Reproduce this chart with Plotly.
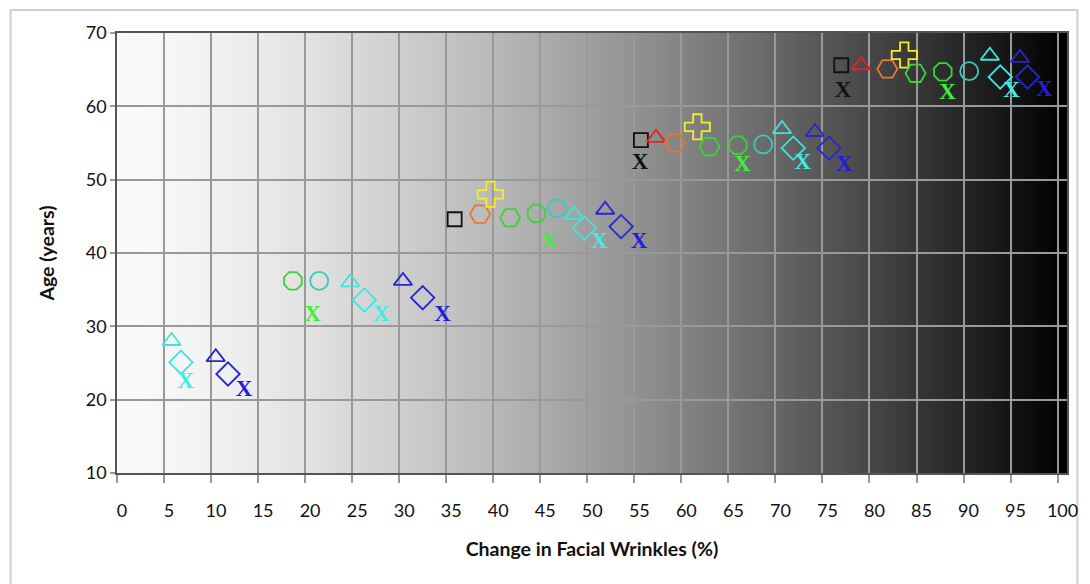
import base64
import struct
import zlib

import plotly.graph_objects as go

# ---- data: (change in facial wrinkles %, age in years) per marker series ----
black_square_x = [35.9, 55.7, 77.0]
black_square_y = [44.6, 55.4, 65.6]

black_x_x = [55.6, 77.2]
black_x_y = [52.3, 62.0]

red_triangle_x = [57.3, 79.1]
red_triangle_y = [55.7, 65.6]

orange_hexagon_x = [38.6, 59.3, 81.9]
orange_hexagon_y = [45.3, 55.0, 65.1]

yellow_cross_x = [39.7, 61.7, 83.7]
yellow_cross_y = [48.0, 57.2, 67.0]

green_hexagon_x = [41.8, 63.0, 84.9]
green_hexagon_y = [44.8, 54.5, 64.5]

green_octagon_x = [18.7, 44.6, 66.0, 87.8]
green_octagon_y = [36.2, 45.4, 54.7, 64.7]

green_x_x = [20.8, 45.9, 66.5, 88.3]
green_x_y = [31.5, 41.4, 52.0, 61.8]

teal_circle_x = [21.5, 46.8, 68.7, 90.6]
teal_circle_y = [36.2, 46.1, 54.8, 64.8]

cyan_triangle_x = [5.8, 24.8, 48.6, 70.7, 92.8]
cyan_triangle_y = [28.0, 36.0, 45.2, 56.9, 66.9]

cyan_diamond_x = [6.8, 26.3, 49.7, 71.9, 93.9]
cyan_diamond_y = [25.1, 33.6, 43.4, 54.3, 64.0]

cyan_x_x = [7.3, 28.1, 51.3, 72.9, 95.1]
cyan_x_y = [22.4, 31.5, 41.4, 52.3, 62.1]

blue_triangle_x = [10.5, 30.4, 51.9, 74.2, 96.0]
blue_triangle_y = [25.8, 36.2, 45.9, 56.5, 66.6]

blue_diamond_x = [11.8, 32.5, 53.6, 75.7, 96.8]
blue_diamond_y = [23.5, 33.9, 43.6, 54.3, 64.0]

blue_x_x = [13.5, 34.6, 55.5, 77.3, 98.6]
blue_x_y = [21.3, 31.5, 41.4, 52.0, 62.2]

x_ticks = list(range(0, 101, 5))
y_ticks = list(range(10, 71, 10))

X_MIN, X_MAX = 0, 101
Y_MIN, Y_MAX = 10, 70


def gradient_png(width=256):
    """Horizontal white-to-black grayscale strip encoded as a PNG data URI."""
    vals = []
    for i in range(width):
        t = i / (width - 1)
        vals.append(int(round(250 * (1 - t ** 1.45))))
    row = b"\x00" + bytes(vals)
    raw = row + row

    def chunk(tag, data):
        return (struct.pack(">I", len(data)) + tag + data
                + struct.pack(">I", zlib.crc32(tag + data) & 0xFFFFFFFF))

    png = (b"\x89PNG\r\n\x1a\n"
           + chunk(b"IHDR", struct.pack(">IIBBBBB", width, 2, 8, 0, 0, 0, 0))
           + chunk(b"IDAT", zlib.compress(raw, 9))
           + chunk(b"IEND", b""))
    return "data:image/png;base64," + base64.b64encode(png).decode()


fig = go.Figure()


def add_marker(xs, ys, symbol, color, size):
    # open symbols take their stroke colour from marker.color
    fig.add_trace(go.Scatter(
        x=xs, y=ys, mode="markers", showlegend=False, hoverinfo="x+y",
        marker=dict(symbol=symbol, size=size, color=color,
                    line=dict(color=color, width=1.8)),
    ))


def add_x(xs, ys, color):
    fig.add_trace(go.Scatter(
        x=xs, y=ys, mode="text", text=["X"] * len(xs), showlegend=False,
        textposition="middle center", hoverinfo="x+y",
        textfont=dict(family="Liberation Serif, DejaVu Serif, serif",
                      size=23, color=color, weight="bold"),
    ))


add_marker(black_square_x, black_square_y, "square-open", "#111111", 14)
add_x(black_x_x, black_x_y, "#111111")
add_marker(red_triangle_x, red_triangle_y, "triangle-up-open", "#e0242a", 16)
add_marker(orange_hexagon_x, orange_hexagon_y, "hexagon2-open", "#e8782c", 20)
add_marker(yellow_cross_x, yellow_cross_y, "cross-open", "#f2ee2a", 21)
add_marker(green_hexagon_x, green_hexagon_y, "hexagon2-open", "#3cd23c", 20)
add_marker(green_octagon_x, green_octagon_y, "octagon-open", "#3cd23c", 19)
add_x(green_x_x, green_x_y, "#3cf03c")
add_marker(teal_circle_x, teal_circle_y, "circle-open", "#34ccc0", 18)
add_marker(cyan_triangle_x, cyan_triangle_y, "triangle-up-open", "#40e4dc", 16)
add_marker(cyan_diamond_x, cyan_diamond_y, "diamond-open", "#40e4dc", 18)
add_x(cyan_x_x, cyan_x_y, "#40ece4")
add_marker(blue_triangle_x, blue_triangle_y, "triangle-up-open", "#2626d0", 16)
add_marker(blue_diamond_x, blue_diamond_y, "diamond-open", "#2626d0", 18)
add_x(blue_x_x, blue_x_y, "#1e1ee0")

tick_font = dict(family="Lato, Open Sans, sans-serif", size=18, color="#111111")
title_font = dict(family="Lato, Open Sans, sans-serif", size=19.5, color="#111111",
                  weight="bold")

fig.update_layout(
    width=1090, height=584,
    margin=dict(l=117, r=17, t=33, b=111),
    paper_bgcolor="white",
    plot_bgcolor="white",
    images=[dict(
        source=gradient_png(), xref="x", yref="y",
        x=X_MIN, y=Y_MAX, sizex=X_MAX - X_MIN, sizey=Y_MAX - Y_MIN,
        sizing="stretch", xanchor="left", yanchor="top", layer="below",
    )],
    shapes=[dict(
        type="rect", xref="paper", yref="paper",
        x0=-0.112, x1=1.011, y0=-0.4, y1=1.052,
        line=dict(color="#cfcfcf", width=2), layer="below",
    )],
    xaxis=dict(
        range=[X_MIN, X_MAX], tickvals=x_ticks, ticktext=[str(v) for v in x_ticks],
        showgrid=True, gridcolor="#999999", gridwidth=1.5,
        showline=True, linecolor="#555555", linewidth=1.5, mirror=True,
        ticks="outside", ticklen=8, tickcolor="#999999", tickwidth=1.5,
        tickfont=tick_font, ticklabelstandoff=13, ticklabelshift=5,
        zeroline=False,
        title=dict(text="Change in Facial Wrinkles (%)", font=title_font, standoff=22),
    ),
    yaxis=dict(
        range=[Y_MIN, Y_MAX], tickvals=y_ticks, ticktext=[str(v) for v in y_ticks],
        showgrid=True, gridcolor="#999999", gridwidth=1.5,
        showline=True, linecolor="#555555", linewidth=1.5, mirror=True,
        ticks="outside", ticklen=5, tickcolor="#999999", tickwidth=1.5,
        tickfont=tick_font, zeroline=False,
        title=dict(text="Age (years)", font=title_font, standoff=26),
    ),
)

fig.write_html("out.html")
